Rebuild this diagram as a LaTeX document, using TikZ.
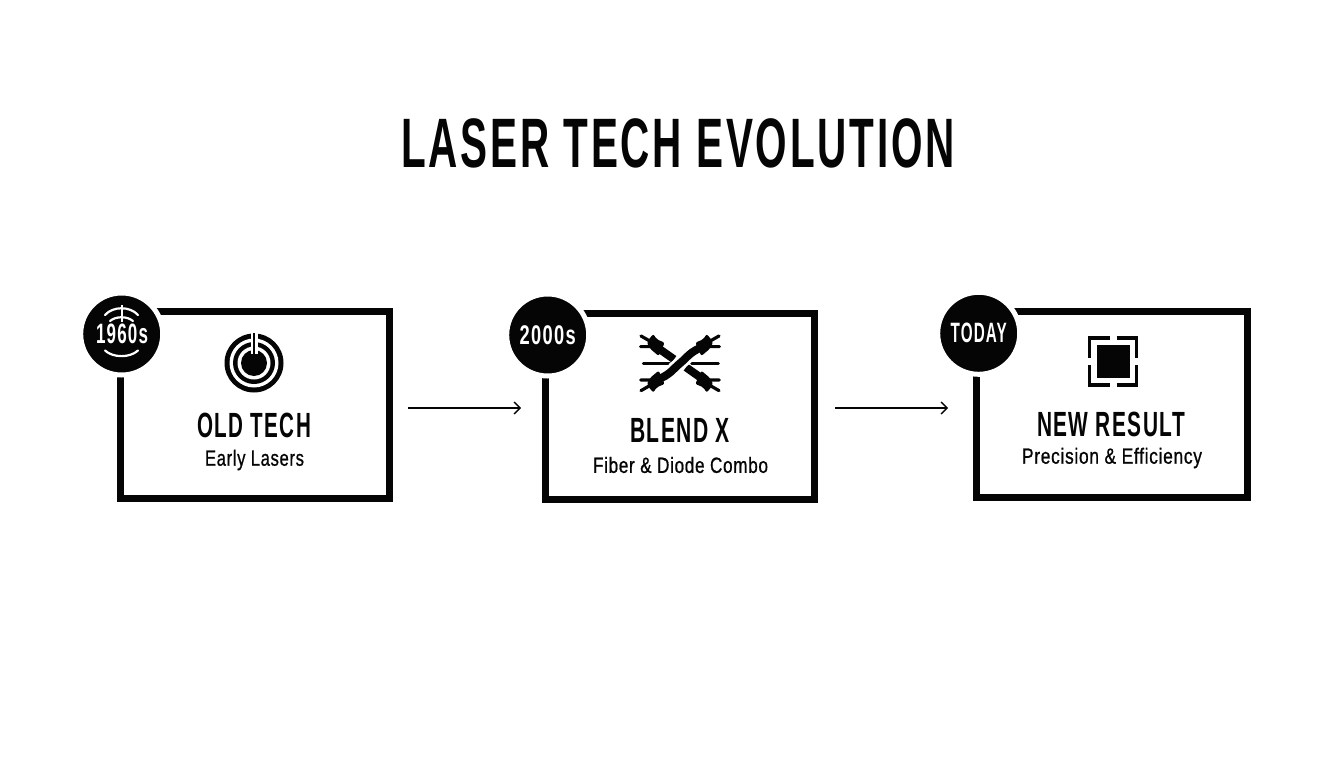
\documentclass[tikz,border=0pt]{standalone}
\usepackage{fontspec}
\usepackage{graphicx}
\setmainfont{Liberation Sans}
\usetikzlibrary{arrows.meta}
\newcommand{\fitb}[3]{\resizebox{#1pt}{\height}{\fontsize{#2}{#2}\selectfont\bfseries\addfontfeature{LetterSpace=7}#3}}
\newcommand{\fitr}[3]{\resizebox{#1pt}{\height}{\fontsize{#2}{#2}\selectfont\addfontfeature{LetterSpace=4,FakeBold=1.0}#3}}
\tikzset{
  x=1pt,y=-1pt,
  panel/.style={draw=ink,line width=7pt,fill=white,rectangle,inner sep=0pt},
  badge/.style={circle,fill=ink,draw=white,line width=5pt,minimum size=82pt,inner sep=0pt,text=white},
  lbl/.style={inner sep=0pt,text=ink},
  flow/.style={draw=ink,line width=1.3pt,-{Straight Barb[length=6pt,width=12pt,line width=1.3pt]}},
}
\definecolor{ink}{HTML}{050505}
\begin{document}
\begin{tikzpicture}
\useasboundingbox (0,0) rectangle (1344,768);
\fill[white] (0,0) rectangle (1344,768);
\node[lbl] (title) at (678,143) {\fitb{554}{70}{LASER TECH EVOLUTION}};
% panels
\node[panel,minimum width=269.5pt,minimum height=186.5pt] (box1) at (254.75,404.75) {};
\node[panel,minimum width=269pt,minimum height=186pt] (box2) at (680,406.5) {};
\node[panel,minimum width=271pt,minimum height=186pt] (box3) at (1112,404.5) {};
% badges
\node[badge] (b1) at (121.7,334) {};
\node[badge] (b2) at (547.7,335) {\fitb{56}{27}{2000s}};
\node[badge] (b3) at (978.7,333.3) {\fitb{56}{28}{TODAY}};
\node[lbl,text=white] (b1t) at (122,334) {\fitb{52}{28}{1960s}};
\draw[white,line width=2.2pt,line cap=round] (105,315) .. controls (113,306) and (130,306) .. (138,315);
\draw[white,line width=2.2pt,line cap=round] (110,321) .. controls (116,316) and (127,316) .. (133,321);
\draw[white,line width=2.2pt] (121.7,305) -- (121.7,322);
\draw[white,line width=2.2pt,line cap=round] (105,350.5) .. controls (113,358) and (130,358) .. (138,350.5);
% labels
\node[lbl] (t1) at (254,425.5) {\fitb{114}{35}{OLD TECH}};
\node[lbl] (s1) at (254.5,460) {\fitr{99}{22}{Early Lasers}};
\node[lbl] (t2) at (680,430) {\fitb{100}{35}{BLEND X}};
\node[lbl] (s2) at (680.5,465) {\fitr{175}{22}{Fiber \& Diode Combo}};
\node[lbl] (t3) at (1111,424.5) {\fitb{148}{35}{NEW RESULT}};
\node[lbl] (s3) at (1112,458) {\fitr{180}{22}{Precision \& Efficiency}};
% arrows
\draw[flow,shorten <=15pt,shorten >=21pt] ([yshift=-3.25pt]box1.east) -- ([yshift=-1.5pt]box2.west);
\draw[flow,shorten <=17pt,shorten >=25pt] ([yshift=-1.5pt]box2.east) -- ([yshift=-3.5pt]box3.west);
% icon 1
\begin{scope}[shift={(254,363)}]
\fill[ink] (0,0) circle[radius=29.5];
\fill[white] (0,0) circle[radius=24.5];
\fill[ink] (0,0) circle[radius=21];
\fill[white] (0,0) circle[radius=16.5];
\fill[ink] (0,0) circle[radius=13];
\fill[white] (-3.5,-30) rectangle (3.5,-9);
\fill[ink] (-1.3,-30) rectangle (1.3,0);
\end{scope}
% icon 2
\begin{scope}[shift={(680,363.3)},x=0.3333pt,y=-0.3333pt]
\draw[ink,line width=3pt,line cap=round] (-110,0)--(-30,0) (35,0)--(115,0);
\foreach \sx/\sy in {-1/-1,1/-1,-1/1,1/1}{
 \begin{scope}[xscale=\sx,yscale=\sy]
 \draw[ink,line width=3.2pt,line cap=round] (70,-50)--(118,-50) (70,-55)--(117,-82);
 \fill[ink,rounded corners=2pt] (100,-64)--(80,-88)--(70,-72)--(46,-62)--(64,-22)--(90,-44)--cycle;
 \end{scope}
}
\draw[ink,line width=8pt] (-72,-50) -- (-18,-12);
\draw[ink,line width=8pt] (72,50) -- (18,12);
\draw[white,line width=13pt] (-22,18) .. controls (-8,6) and (8,-6) .. (22,-18);
\draw[ink,line width=8pt] (-70,50) .. controls (-30,35) and (-22,18) .. (0,0) .. controls (22,-18) and (30,-35) .. (70,-50);
\end{scope}
% icon 3
\begin{scope}[shift={(1113,361.5)}]
\fill[ink] (-16.5,-16.5) rectangle (16.5,16.5);
\foreach \sx/\sy in {-1/-1,1/-1,-1/1,1/1}{
 \draw[ink,line width=3.6pt,xscale=\sx,yscale=\sy] (3.5,-23.6) -- (23.6,-23.6) -- (23.6,-3.5);
}
\end{scope}
\end{tikzpicture}
\end{document}
